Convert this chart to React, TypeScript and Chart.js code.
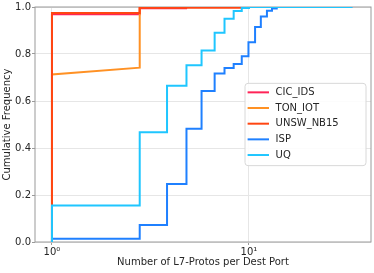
import React, { useEffect, useRef } from 'react';
import { Chart, registerables } from 'chart.js';

Chart.register(...registerables);

const SERIES_NAMES = ['CIC_IDS', 'TON_IOT', 'UNSW_NB15', 'ISP', 'UQ'];
const SERIES_COLORS = ['#ff2457', '#ff9124', '#ff4612', '#1f80ff', '#1fc6ff'];

const CIC_X = [1, 1, 2.79, 4.8, 6];
const CIC_Y = [0, 0.969, 0.995, 1.0, 1.0];

const TON_X = [1, 1, 2.79, 2.79, 3.84];
const TON_Y = [0, 0.713, 0.742, 1.0, 1.0];

const UNSW_X = [1, 1, 2.79, 10];
const UNSW_Y = [0, 0.975, 0.997, 1.0];

const ISP_X = [1, 1, 2.79, 3.84, 4.82, 5.75, 6.7, 7.52, 8.37, 9.2, 9.95, 10.75, 11.5, 12.35, 13.1, 13.85, 33.5];
const ISP_Y = [0, 0.014, 0.072, 0.247, 0.482, 0.643, 0.717, 0.74, 0.757, 0.79, 0.85, 0.915, 0.96, 0.984, 0.994, 1.0, 1.0];

const UQ_X = [1, 1, 2.79, 3.84, 4.82, 5.75, 6.7, 7.52, 8.37, 9.2, 10, 33.5];
const UQ_Y = [0, 0.155, 0.467, 0.665, 0.752, 0.815, 0.89, 0.95, 0.983, 0.996, 1.0, 1.0];

const X_TICKS = [1, 10];
const X_TICK_LABELS = ['10\u2070', '10\u00B9'];
const Y_TICKS = [0, 0.2, 0.4, 0.6, 0.8, 1.0];

const X_TITLE = 'Number of L7-Protos per Dest Port';
const Y_TITLE = 'Cumulative Frequency';

const FONT = 'DejaVu Sans';
const TEXT = '#262626';

const framePlugin = {
  id: 'frame',
  beforeDatasetsDraw(chart: any) {
    const { ctx, chartArea } = chart;
    ctx.save();
    ctx.strokeStyle = '#9a9a9a';
    ctx.lineWidth = 1;
    ctx.strokeRect(chartArea.left, chartArea.top, chartArea.right - chartArea.left, chartArea.bottom - chartArea.top);
    ctx.restore();
  },
};

const legendPlugin = {
  id: 'insideLegend',
  afterDatasetsDraw(chart: any) {
    const { ctx, chartArea } = chart;
    const w = 121;
    const h = 82.3;
    const right = chartArea.right - 5;
    const left = right - w;
    const top = (chartArea.top + chartArea.bottom) / 2 - h / 2;
    ctx.save();
    ctx.beginPath();
    if (ctx.roundRect) ctx.roundRect(left, top, w, h, 3);
    else ctx.rect(left, top, w, h);
    ctx.fillStyle = 'rgba(255,255,255,0.85)';
    ctx.fill();
    ctx.strokeStyle = '#d8d8d8';
    ctx.lineWidth = 1;
    ctx.stroke();
    chart.data.datasets.forEach((ds: any, i: number) => {
      const y = top + 9 + i * 15.67;
      ctx.beginPath();
      ctx.moveTo(left + 2.6, y);
      ctx.lineTo(left + 24, y);
      ctx.strokeStyle = ds.borderColor;
      ctx.lineWidth = 2;
      ctx.stroke();
      ctx.fillStyle = TEXT;
      ctx.font = `10px "${FONT}"`;
      ctx.textBaseline = 'middle';
      ctx.textAlign = 'left';
      ctx.fillText(ds.label, left + 30.6, y);
    });
    ctx.restore();
  },
};

function pts(xs: number[], ys: number[]) {
  return xs.map((x, i) => ({ x, y: ys[i] }));
}

export default function App() {
  const ref = useRef<HTMLCanvasElement>(null);

  useEffect(() => {
    if (!ref.current) return;
    const seriesX = [CIC_X, TON_X, UNSW_X, ISP_X, UQ_X];
    const seriesY = [CIC_Y, TON_Y, UNSW_Y, ISP_Y, UQ_Y];
    const stepped = [true, false, true, true, true];
    const datasets = SERIES_NAMES.map((name, i) => ({
      label: name,
      data: pts(seriesX[i], seriesY[i]),
      borderColor: SERIES_COLORS[i],
      backgroundColor: SERIES_COLORS[i],
      borderWidth: 2,
      pointRadius: 0,
      fill: false,
      tension: 0,
      stepped: stepped[i] ? 'before' : false,
      order: SERIES_NAMES.length - i,
    }));

    const chart = new Chart(ref.current, {
      type: 'line',
      data: { datasets: datasets as any },
      plugins: [framePlugin, legendPlugin],
      options: {
        animation: false,
        responsive: false,
        devicePixelRatio: 1,
        layout: { padding: { left: 0, top: 7, right: 3, bottom: 0 } },
        plugins: {
          legend: { display: false },
          tooltip: { enabled: false },
        },
        scales: {
          x: {
            type: 'logarithmic',
            min: 0.82,
            max: 41.7,
            afterBuildTicks: (scale: any) => {
              scale.ticks = X_TICKS.map((v) => ({ value: v, major: true }));
            },
            afterFit: (scale: any) => {
              scale.height = 31;
            },
            border: { display: false },
            grid: { color: '#e6e6e6', tickColor: '#9a9a9a', tickLength: 3, drawTicks: true },
            ticks: {
              autoSkip: false,
              maxRotation: 0,
              padding: 1,
              color: TEXT,
              font: { family: FONT, size: 10 },
              callback: (v: any) => {
                const idx = X_TICKS.indexOf(Number(v));
                return idx >= 0 ? X_TICK_LABELS[idx] : '';
              },
            },
            title: {
              display: true,
              text: X_TITLE,
              color: TEXT,
              font: { family: FONT, size: 10 },
              padding: { top: 0, bottom: 4.5 },
            },
          },
          y: {
            type: 'linear',
            min: 0,
            max: 1,
            afterBuildTicks: (scale: any) => {
              scale.ticks = Y_TICKS.map((v) => ({ value: v }));
            },
            afterFit: (scale: any) => {
              scale.width = 35;
            },
            border: { display: false },
            grid: { color: '#e6e6e6', tickColor: '#9a9a9a', tickLength: 3, drawTicks: true },
            ticks: {
              padding: 1,
              color: TEXT,
              font: { family: FONT, size: 10 },
              callback: (v: any) => Number(v).toFixed(1),
            },
            title: {
              display: true,
              text: Y_TITLE,
              color: TEXT,
              font: { family: FONT, size: 10 },
              padding: { top: 1.5, bottom: 0 },
            },
          },
        },
      },
    });
    return () => chart.destroy();
  }, []);

  return (
    <div style={{ position: 'fixed', left: 0, top: 0, width: 374, height: 273, background: '#fff' }}>
      <canvas ref={ref} width={374} height={273} style={{ display: 'block', width: 374, height: 273 }} />
    </div>
  );
}
